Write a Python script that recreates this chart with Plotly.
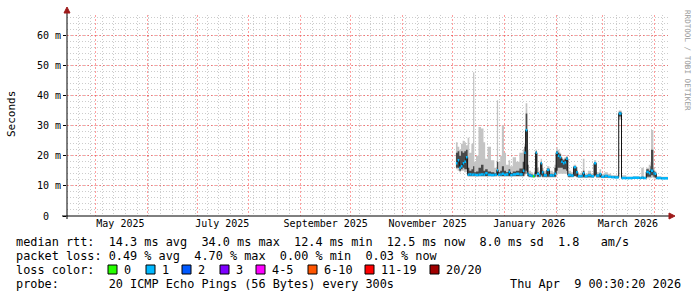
import plotly.graph_objects as go

# ---------------- data ----------------
dates = [
    "2025-12-03 00:00", "2025-12-04 00:00", "2025-12-05 00:00", "2025-12-06 00:00",
    "2025-12-07 00:00", "2025-12-08 00:00", "2025-12-09 00:00", "2025-12-10 00:00",
    "2025-12-11 00:00", "2025-12-12 06:00", "2025-12-13 06:00", "2025-12-14 00:00",
    "2025-12-15 00:00", "2025-12-16 12:00", "2025-12-18 00:00", "2025-12-19 12:00",
    "2025-12-20 12:00", "2025-12-22 00:00", "2025-12-24 00:00", "2025-12-26 00:00",
    "2025-12-27 12:00", "2025-12-28 06:00", "2025-12-29 12:00", "2025-12-30 12:00",
    "2025-12-31 18:00", "2026-01-02 00:00", "2026-01-03 12:00", "2026-01-04 12:00",
    "2026-01-06 00:00", "2026-01-08 00:00", "2026-01-10 00:00", "2026-01-12 00:00",
    "2026-01-13 00:00", "2026-01-13 18:00", "2026-01-14 18:00", "2026-01-15 12:00",
    "2026-01-17 00:00", "2026-01-18 00:00", "2026-01-19 00:00", "2026-01-19 18:00",
    "2026-01-20 12:00", "2026-01-21 18:00", "2026-01-22 18:00", "2026-01-23 12:00",
    "2026-01-24 12:00", "2026-01-26 12:00", "2026-01-28 00:00", "2026-01-30 00:00",
    "2026-01-31 00:00", "2026-02-01 00:00", "2026-02-02 00:00", "2026-02-03 00:00",
    "2026-02-04 00:00", "2026-02-05 00:00", "2026-02-06 00:00", "2026-02-07 00:00",
    "2026-02-08 00:00", "2026-02-10 00:00", "2026-02-11 12:00", "2026-02-13 00:00",
    "2026-02-14 00:00", "2026-02-16 00:00", "2026-02-17 00:00", "2026-02-18 00:00",
    "2026-02-20 00:00", "2026-02-22 00:00", "2026-02-23 18:00", "2026-02-25 00:00",
    "2026-02-27 00:00", "2026-02-28 00:00", "2026-03-02 00:00", "2026-03-04 00:00",
    "2026-03-06 00:00", "2026-03-08 00:00", "2026-03-10 12:00", "2026-03-12 04:00",
    "2026-03-15 00:00", "2026-03-19 00:00", "2026-03-23 00:00", "2026-03-24 00:00",
    "2026-03-25 12:00", "2026-03-27 00:00", "2026-03-28 12:00", "2026-03-29 12:00",
    "2026-03-29 20:00", "2026-03-31 06:00", "2026-04-01 00:00", "2026-04-02 00:00",
    "2026-04-05 00:00", "2026-04-09 00:00",
]
median_ms = [
    17.5, 18.5, 16.0, 16.5, 17.5, 18.0, 19.5, 13.7,
    13.8, 13.7, 13.8, 13.7, 13.6, 13.7, 13.8, 13.7,
    14.2, 13.7, 13.6, 13.7, 15.2, 13.7, 13.8, 14.0,
    13.7, 13.8, 14.6, 13.6, 13.8, 14.0, 13.8, 15.0,
    21.0, 28.5, 14.0, 13.5, 13.3, 13.2, 13.5, 21.0,
    14.0, 13.4, 17.5, 14.5, 13.5, 15.3, 13.5, 13.4,
    14.0, 21.0, 20.0, 19.5, 18.0, 17.5, 17.8, 19.0,
    13.6, 13.4, 16.2, 14.5, 13.2, 13.3, 14.2, 13.2,
    13.5, 13.2, 17.5, 13.4, 13.9, 13.0, 13.3, 13.0,
    12.9, 12.8, 34.0, 12.6, 12.6, 12.7, 12.6, 12.7,
    12.6, 14.6, 14.2, 15.3, 15.0, 14.2, 14.0, 12.6,
    12.5, 12.5,
]
smoke_min = [
    15.5, 15.0, 14.5, 15.0, 15.0, 14.5, 14.5, 13.0,
    13.0, 13.0, 13.0, 13.0, 13.0, 13.0, 13.0, 13.0,
    13.0, 13.0, 13.0, 13.0, 13.2, 13.0, 13.0, 13.0,
    13.0, 13.0, 13.0, 13.0, 13.0, 13.0, 13.0, 13.0,
    13.5, 14.0, 13.0, 12.8, 12.8, 12.8, 12.8, 13.0,
    12.8, 12.8, 13.0, 12.8, 12.8, 12.8, 12.8, 12.8,
    12.8, 13.5, 14.0, 14.0, 14.0, 14.0, 14.0, 14.0,
    12.8, 12.8, 13.0, 12.8, 12.7, 12.7, 12.7, 12.7,
    12.7, 12.7, 13.0, 12.7, 12.7, 12.6, 12.6, 12.6,
    12.5, 12.5, 32.0, 12.3, 12.3, 12.3, 12.3, 12.3,
    12.3, 12.5, 12.5, 12.5, 12.8, 12.5, 12.4, 12.2,
    12.2, 12.2,
]
smoke_max = [
    24.5, 23.0, 22.0, 24.0, 25.0, 24.5, 23.5, 26.0,
    21.0, 24.0, 47.7, 18.0, 20.0, 29.5, 29.0, 24.5,
    19.0, 23.0, 18.5, 16.0, 38.4, 18.0, 20.0, 30.0,
    21.0, 17.0, 18.5, 16.5, 19.5, 18.0, 21.0, 22.0,
    24.0, 37.4, 22.0, 15.0, 14.5, 14.0, 16.0, 22.0,
    16.0, 15.0, 19.0, 16.0, 15.0, 16.5, 15.0, 14.5,
    17.0, 22.5, 22.0, 21.0, 19.5, 19.0, 19.5, 20.0,
    15.0, 14.5, 17.0, 16.0, 14.0, 14.5, 19.0, 14.0,
    15.0, 14.0, 18.5, 14.5, 15.5, 14.0, 14.5, 14.0,
    13.5, 13.5, 35.0, 13.5, 13.0, 13.2, 13.0, 16.0,
    13.0, 16.0, 17.0, 18.0, 28.5, 16.0, 15.0, 13.2,
    13.0, 13.0,
]
dark_lo = [
    16.0, 16.0, 15.0, 15.5, 16.0, 15.5, 15.5, 13.3,
    13.3, 13.3, 13.3, 13.3, 13.3, 13.3, 13.3, 13.3,
    13.3, 13.3, 13.3, 13.3, 13.5, 13.3, 13.3, 13.3,
    13.3, 13.3, 13.3, 13.3, 13.3, 13.3, 13.3, 13.3,
    14.0, 15.0, 13.3, 13.0, 13.0, 13.0, 13.0, 14.0,
    13.0, 13.0, 13.5, 13.0, 13.0, 13.0, 13.0, 13.0,
    13.0, 15.0, 16.0, 16.0, 16.0, 15.5, 15.5, 15.0,
    13.0, 13.0, 13.3, 13.0, 12.9, 12.9, 12.9, 12.9,
    12.9, 12.9, 13.5, 12.9, 12.9, 12.8, 12.8, 12.8,
    12.7, 12.7, 33.0, 12.4, 12.4, 12.4, 12.4, 12.4,
    12.4, 13.0, 13.0, 13.0, 13.5, 13.0, 12.8, 12.4,
    12.3, 12.3,
]
dark_hi = [
    21.0, 21.5, 20.0, 21.5, 21.0, 21.5, 22.0, 16.0,
    15.0, 15.5, 16.5, 14.5, 14.8, 16.0, 17.0, 15.0,
    15.5, 14.8, 14.5, 14.2, 18.0, 14.5, 15.0, 16.5,
    15.0, 14.5, 15.5, 14.3, 14.8, 15.0, 15.8, 18.0,
    23.0, 34.0, 17.0, 14.0, 13.8, 13.6, 14.5, 21.5,
    14.5, 14.0, 18.0, 15.0, 14.0, 15.8, 14.0, 13.8,
    16.0, 21.5, 21.0, 20.5, 19.0, 18.5, 19.0, 19.5,
    14.0, 13.8, 16.5, 15.0, 13.5, 13.6, 15.0, 13.5,
    14.0, 13.5, 17.8, 13.8, 14.2, 13.3, 13.6, 13.3,
    13.2, 13.1, 34.6, 12.9, 12.8, 12.9, 12.8, 13.0,
    12.8, 15.5, 15.0, 16.5, 22.0, 15.0, 14.5, 12.8,
    12.7, 12.7,
]
loss_bucket = [1] * 37 + [0] + [1] * 52

y_tick_vals = [0, 10, 20, 30, 40, 50, 60]
y_tick_text = ["0\u00a0\u00a0", "10\u00a0m", "20\u00a0m", "30\u00a0m", "40\u00a0m", "50\u00a0m", "60\u00a0m"]
x_label_dates = ["2025-05-16", "2025-07-16", "2025-09-16", "2025-11-16", "2026-01-16", "2026-03-16"]
x_label_text = ["May 2025", "July 2025", "September 2025", "November 2025", "January 2026", "March 2026"]
x_start, x_end = "2025-04-14 00:30:20", "2026-04-09 00:30:20"

loss_labels = ["0", "1", "2", "3", "4-5", "6-10", "11-19", "20/20"]
loss_colors = ["#26ff00", "#00b8ff", "#0059ff", "#7e00ff", "#ff00ff", "#ff5500", "#ff0000", "#a00000"]

legend_rtt = "median rtt:  14.3 ms avg  34.0 ms max  12.4 ms min  12.5 ms now  8.0 ms sd  1.8   am/s"
legend_loss = "packet loss: 0.49 % avg  4.70 % max  0.00 % min  0.03 % now"
legend_probe = "probe:       20 ICMP Echo Pings (56 Bytes) every 300s"
legend_date = "Thu Apr  9 00:30:20 2026"

# ---------------- layout geometry (pixels) ----------------
W, H = 697, 297
L, R, T, B = 67, 668, 15, 216
MONO = "DejaVu Sans Mono"


def px(x):
    return (x - L) / (R - L)


def py(y):
    return (B - y) / (B - T)


def nb(s):
    return s.replace(" ", "\u00a0")


fig = go.Figure()

# smoke: outer (light) band
fig.add_trace(go.Scatter(x=dates, y=smoke_min, mode="lines", line=dict(width=0, shape="hv"),
                         hoverinfo="skip", showlegend=False))
fig.add_trace(go.Scatter(x=dates, y=smoke_max, mode="lines", line=dict(width=0, shape="hv"),
                         fill="tonexty", fillcolor="#c4c4c4", hoverinfo="skip", showlegend=False))
# smoke: inner (dark) band
fig.add_trace(go.Scatter(x=dates, y=dark_lo, mode="lines", line=dict(width=0, shape="hv"),
                         hoverinfo="skip", showlegend=False))
fig.add_trace(go.Scatter(x=dates, y=dark_hi, mode="lines", line=dict(width=0, shape="hv"),
                         fill="tonexty", fillcolor="#484848", hoverinfo="skip", showlegend=False))
# median: thin black step line (shows the vertical transitions)
fig.add_trace(go.Scatter(x=dates, y=median_ms, mode="lines", line=dict(width=1, shape="hv", color="#111111"),
                         hoverinfo="skip", showlegend=False))
# median: loss-coloured horizontal segments
for b in sorted(set(loss_bucket)):
    xs, ys = [], []
    for i in range(len(dates) - 1):
        if loss_bucket[i] == b:
            xs += [dates[i], dates[i + 1], None]
            ys += [median_ms[i], median_ms[i], None]
    fig.add_trace(go.Scatter(x=xs, y=ys, mode="lines", line=dict(width=2.5, color=loss_colors[b]),
                             connectgaps=False, hoverinfo="skip", showlegend=False))

# invisible trace to carry the label axis
fig.add_trace(go.Scatter(x=[x_start, x_end], y=[0, 0], xaxis="x2", mode="markers",
                         marker=dict(size=1, opacity=0), hoverinfo="skip", showlegend=False))

grid_major = "rgba(255,0,0,0.38)"
grid_minor = "#cccccc"

fig.update_layout(
    width=W, height=H,
    margin=dict(l=L, r=W - R, t=T, b=H - B, pad=0),
    paper_bgcolor="white", plot_bgcolor="white",
    showlegend=False,
    xaxis=dict(
        type="date", range=[x_start, x_end], showticklabels=False,
        showgrid=True, gridcolor=grid_major, griddash="2px,2px", gridwidth=1,
        dtick="M1", tick0="2025-05-01", ticks="", zeroline=False, showline=False,
        minor=dict(dtick=7 * 86400000, tick0="2025-04-14", showgrid=True,
                   gridcolor=grid_minor, griddash="1px,2px", gridwidth=1),
        fixedrange=True,
    ),
    xaxis2=dict(
        type="date", range=[x_start, x_end], overlaying="x", anchor="y", side="bottom",
        tickvals=x_label_dates, ticktext=x_label_text, showgrid=False, ticks="",
        tickfont=dict(family=MONO, size=10, color="black"), zeroline=False, showline=False,
        fixedrange=True,
    ),
    yaxis=dict(
        range=[0, 66.7], tickvals=y_tick_vals, ticktext=y_tick_text,
        showgrid=True, gridcolor=grid_major, griddash="2px,2px", gridwidth=1,
        ticks="outside", ticklen=3, tickcolor="black",
        tickfont=dict(family=MONO, size=10, color="black"), zeroline=False, showline=False,
        minor=dict(dtick=2, tick0=0, showgrid=True, gridcolor=grid_minor, griddash="1px,2px", gridwidth=1),
        fixedrange=True,
    ),
)

shapes = []
# axes lines
shapes.append(dict(type="line", xref="paper", yref="paper", x0=px(67), x1=px(67), y0=py(219), y1=py(12),
                   line=dict(color="black", width=1)))
shapes.append(dict(type="line", xref="paper", yref="paper", x0=px(62), x1=px(670), y0=py(216), y1=py(216),
                   line=dict(color="black", width=1)))
# arrows
shapes.append(dict(type="path", xref="paper", yref="paper",
                   path=f"M {px(64)},{py(13)} L {px(70)},{py(13)} L {px(67)},{py(7)} Z",
                   fillcolor="#9e1a1a", line=dict(color="#9e1a1a", width=1)))
shapes.append(dict(type="path", xref="paper", yref="paper",
                   path=f"M {px(669)},{py(213)} L {px(669)},{py(219)} L {px(675)},{py(216)} Z",
                   fillcolor="#9e1a1a", line=dict(color="#9e1a1a", width=1)))

annotations = []


def text(s, x, y, size=11.85, anchor="left", color="black", angle=0, family=MONO):
    annotations.append(dict(text=nb(s), x=px(x), y=py(y), xref="paper", yref="paper",
                            xanchor=anchor, yanchor="middle", showarrow=False, textangle=angle,
                            borderpad=0, borderwidth=0,
                            font=dict(family=family, size=size, color=color)))


text(legend_rtt, 16, 241.5)
text(legend_loss, 16, 255.5)
text("loss color:", 16, 269.5)
text(legend_probe, 16, 283.5)
text(legend_date, 681, 283.5, anchor="right")

swatch_x = [108, 146, 182, 220, 256, 308, 365, 430]
for sx, lab, col in zip(swatch_x, loss_labels, loss_colors):
    shapes.append(dict(type="rect", xref="paper", yref="paper",
                       x0=px(sx), x1=px(sx + 9), y0=py(274), y1=py(265),
                       fillcolor=col, line=dict(color="black", width=1)))
    text(lab, sx + 16, 269.5)

annotations.append(dict(text="Seconds", x=px(11), y=py(114), xref="paper", yref="paper",
                        xanchor="center", yanchor="middle", showarrow=False, textangle=-90,
                        font=dict(family=MONO, size=11, color="black")))
annotations.append(dict(text=nb("RRDTOOL / TOBI OETIKER"), x=px(687), y=py(60), xref="paper", yref="paper",
                        xanchor="center", yanchor="middle", showarrow=False, textangle=90,
                        font=dict(family=MONO, size=7.6, color="#9a9a9a")))

fig.update_layout(shapes=shapes, annotations=annotations)

fig.write_html("out.html", config={"displayModeBar": False, "staticPlot": True})
